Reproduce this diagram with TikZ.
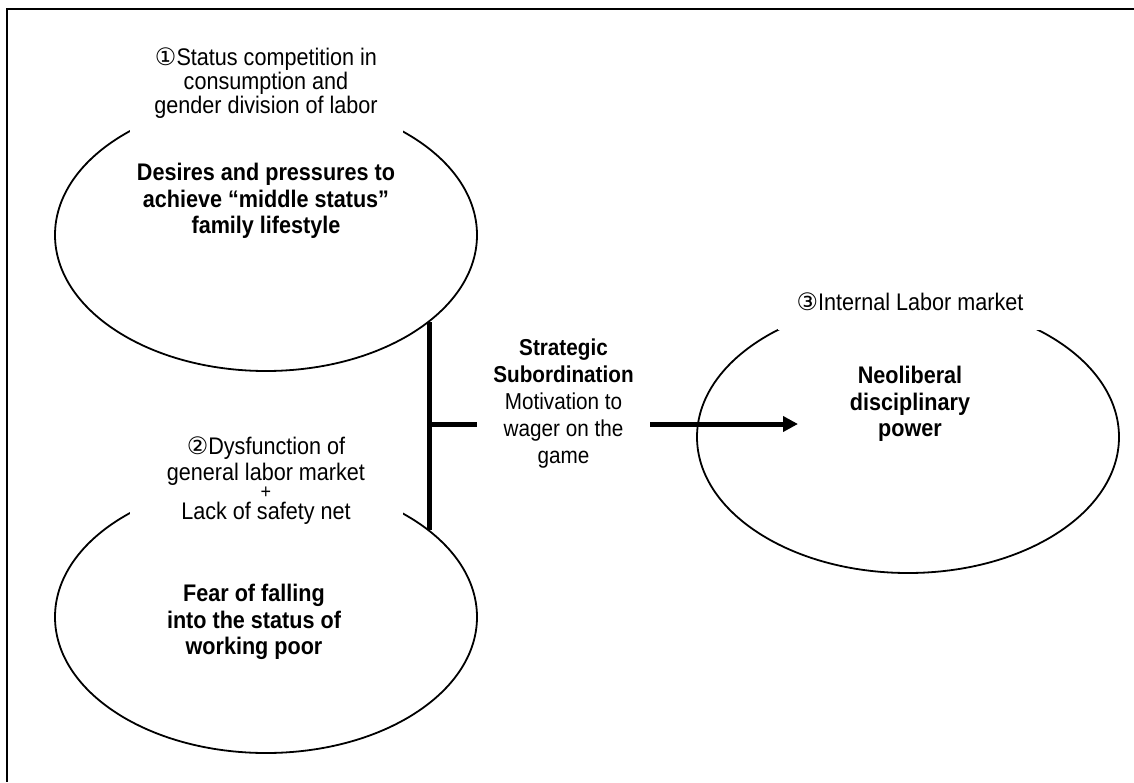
\documentclass[tikz,border=0pt]{standalone}
\usepackage{fontspec}
\setmainfont[FakeStretch=0.9]{Liberation Sans}
\newfontfamily\circfont{DejaVu Sans}
\usetikzlibrary{shapes.geometric,arrows.meta,positioning}

\tikzstyle{oval} = [draw, ellipse, line width=0.9pt,
    minimum width=211pt, minimum height=136pt]
\tikzstyle{tag} = [fill=white, inner sep=11pt, minimum width=136.5pt, align=center]
\tikzstyle{core} = [align=center, font=\bfseries\fontsize{12}{13.25}\selectfont]
\tikzstyle{bar} = [line width=2.5pt]

\begin{document}
\begin{tikzpicture}[x=0.5pt, y=-0.5pt, >={Triangle[length=7.5pt,width=7.5pt]}]
\useasboundingbox (0,0) rectangle (1134,782);
\draw[line width=0.75pt] (1134,9) -- (7,9) -- (7,782);

    % the three ellipses first
    \node [oval] (desire) at (266,235) {};
    \node [oval] (fear) at (266,617) {};
    \node [oval] (power) at (908,437) {};

    \node [core] (desireText) at (266,201) {Desires and pressures to\\achieve “middle status”\\family lifestyle};
    \node [core] (fearText) at (254,622) {Fear of falling\\into the status of\\working poor};
    \node [core] (powerText) at (910,404) {Neoliberal\\disciplinary\\power};

    % white tags cover the tops of the ellipses
    \node [tag, font=\fontsize{12}{11}\selectfont] (statusTag) at (266,83)
        {{\circfont ①}Status competition in\\consumption and\\gender division of labor};
    \node [tag, font=\fontsize{12}{13}\selectfont] (dysTag) at (266,481)
        {{\circfont ②}Dysfunction of\\general labor market\\[-4pt]{\fontsize{10}{10}\selectfont +}\\[-2.5pt]Lack of safety net};
    \node [tag, inner sep=9.5pt, minimum width=132pt, font=\fontsize{12}{13}\selectfont] (marketTag) at (910,302)
        {{\circfont ③}Internal Labor market};

    \node [align=center, inner sep=8pt, font=\fontsize{11.5}{13.5}\selectfont] (strategy) at (563.5,404)
        {\textbf{Strategic}\\\textbf{Subordination}\\Motivation to\\wager on the\\game};

    \coordinate (joint) at (428,424);
    \coordinate (target) at (798,424);

    % connections
    \draw [bar] (desire.-28) -- (fear.28);
    \draw [bar] (joint) -- (joint -| strategy.west);
    \draw [bar,->] (joint -| strategy.east) -- (target);

\end{tikzpicture}
\end{document}
